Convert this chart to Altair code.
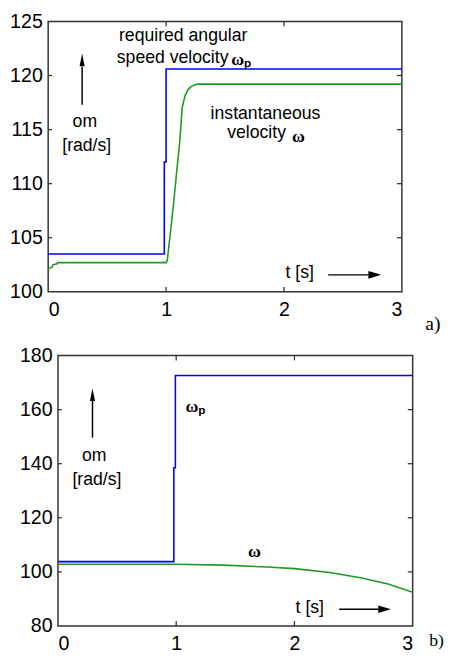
import altair as alt
import pandas as pd

# ---------------- data ----------------
# panel a)
a_req_t = [0.0, 0.985, 0.985, 1.0, 1.0, 3.0]
a_req_om = [103.5, 103.5, 112.0, 112.0, 120.6, 120.6]
a_act_t = [0.0, 0.035, 0.04, 0.075, 0.08, 1.0, 1.01, 1.035, 1.062, 1.089,
           1.117, 1.136, 1.16, 1.186, 1.215, 1.245, 1.27, 3.0]
a_act_om = [102.1, 102.3, 102.5, 102.6, 102.7, 102.7, 102.9, 105.3, 108.0, 111.0,
            114.0, 117.0, 118.1, 118.7, 119.0, 119.15, 119.2, 119.2]
# panel b)
b_req_t = [0.0, 0.98, 0.98, 0.993, 0.993, 3.0]
b_req_om = [103.8, 103.8, 138.5, 138.5, 172.6, 172.6]
b_act_t = [0.0, 1.0, 1.4, 1.77, 2.0, 2.3, 2.57, 2.8, 3.0]
b_act_om = [102.8, 102.8, 102.5, 101.8, 101.2, 99.8, 97.7, 95.4, 92.5]

x_ticks = [0, 1, 2, 3]
a_y_ticks = [100, 105, 110, 115, 120, 125]
b_y_ticks = [80, 100, 120, 140, 160, 180]

SANS = "Liberation Sans"
SERIF = "Liberation Serif"
BLUE = "#0000ff"
GREEN = "#229922"
FRAME = "#333333"

UP_HEAD = "M0,-1L0.4,1L-0.4,1Z"
RIGHT_HEAD = "M1,0L-1,-0.6L-1,0.6Z"


def df(**cols):
    return pd.DataFrame(cols)


def panel(req_t, req_om, act_t, act_om, y_dom, y_ticks, texts, arrows, heads,
          w, h, ypad):
    X = alt.X("t:Q", scale=alt.Scale(domain=[0, 3], nice=False, zero=False),
              axis=alt.Axis(values=x_ticks, title=None, labelPadding=8))
    Y = alt.Y("om:Q", scale=alt.Scale(domain=y_dom, nice=False, zero=False),
              axis=alt.Axis(values=y_ticks, title=None, labelPadding=ypad))
    layers = []
    # inward ticks (MATLAB style box)
    inner_y = y_ticks[1:-1]
    inner_x = x_ticks[1:-1]
    layers.append(alt.Chart(df(t=[0] * len(inner_y), om=inner_y)).mark_tick(
        orient="horizontal", size=4, thickness=1.3, xOffset=2, color=FRAME, opacity=1
    ).encode(x=X, y=Y))
    layers.append(alt.Chart(df(t=[3] * len(inner_y), om=inner_y)).mark_tick(
        orient="horizontal", size=5, thickness=1.3, xOffset=-2.5, color=FRAME, opacity=1
    ).encode(x=X, y=Y))
    layers.append(alt.Chart(df(t=inner_x, om=[y_dom[0]] * len(inner_x))).mark_tick(
        orient="vertical", size=5, thickness=1.3, yOffset=-2.5, color=FRAME, opacity=1
    ).encode(x=X, y=Y))
    layers.append(alt.Chart(df(t=inner_x, om=[y_dom[1]] * len(inner_x))).mark_tick(
        orient="vertical", size=5, thickness=1.3, yOffset=2.5, color=FRAME, opacity=1
    ).encode(x=X, y=Y))
    # series
    layers.append(alt.Chart(df(t=req_t, om=req_om, i=list(range(len(req_t))))).mark_line(
        color=BLUE, strokeWidth=1.6, interpolate="linear"
    ).encode(x=X, y=Y, order="i:Q"))
    layers.append(alt.Chart(df(t=act_t, om=act_om, i=list(range(len(act_t))))).mark_line(
        color=GREEN, strokeWidth=1.6, interpolate="linear"
    ).encode(x=X, y=Y, order="i:Q"))
    # arrows
    layers.append(alt.Chart(df(**arrows)).mark_rule(color="black", strokeWidth=1.5).encode(
        x=X, y=Y, x2="t2:Q", y2="om2:Q"))
    for hd in heads:
        layers.append(alt.Chart(df(t=[hd["t"]], om=[hd["om"]])).mark_point(
            shape=hd["shape"], size=169, filled=True, color="black", opacity=1, strokeWidth=0
        ).encode(x=X, y=Y))
    # texts
    for tx in texts:
        layers.append(alt.Chart(df(t=[tx["t"]], om=[tx["om"]], label=[tx["label"]])).mark_text(
            font=tx.get("font", SANS), fontSize=tx.get("size", 18),
            fontWeight=tx.get("weight", "normal"), align=tx.get("align", "center"),
            baseline="alphabetic", color="black"
        ).encode(x=X, y=Y, text="label:N"))
    return alt.layer(*layers).properties(width=w, height=h)


def spacer(w):
    return alt.Chart(df(z=[0])).mark_text(text="", fontSize=1).encode(
        x=alt.value(0), y=alt.value(0)
    ).properties(width=w, height=1, view=alt.ViewBackground(stroke="transparent"))


a_texts = [
    dict(label="required angular", t=1.145, om=123.22),
    dict(label="speed velocity", t=0.582, om=121.18, align="left"),
    dict(label="ω", t=1.553, om=120.95, align="left", font=SERIF, weight="bold", size=18),
    dict(label="p", t=1.66, om=120.8, align="left", weight="bold", size=12),
    dict(label="om", t=0.311, om=115.24),
    dict(label="[rad/s]", t=0.327, om=113.03),
    dict(label="instantaneous", t=1.843, om=115.97),
    dict(label="velocity", t=2.017, om=114.2, align="right"),
    dict(label="ω", t=2.067, om=113.89, align="left", font=SERIF, weight="bold", size=18),
    dict(label="t [s]", t=2.134, om=101.3),
    dict(label="a)", t=3.198, om=96.5, align="left", font=SERIF, size=20),
]
a_arrows = dict(t=[0.288, 2.375], om=[117.3, 101.57], t2=[0.288, 2.72], om2=[120.8, 101.57])
a_heads = [dict(t=0.288, om=121.45, shape=UP_HEAD), dict(t=2.77, om=101.57, shape=RIGHT_HEAD)]

b_texts = [
    dict(label="ω", t=1.079, om=158.99, align="left", font=SERIF, weight="bold", size=18),
    dict(label="p", t=1.186, om=158.3, align="left", weight="bold", size=12),
    dict(label="om", t=0.306, om=140.98),
    dict(label="[rad/s]", t=0.329, om=132.0),
    dict(label="ω", t=1.608, om=105.36, align="left", font=SERIF, weight="bold", size=18),
    dict(label="t [s]", t=2.13, om=84.9),
    dict(label="b)", t=3.14, om=72.5, align="left", font=SERIF, size=18),
]
b_arrows = dict(t=[0.292, 2.378], om=[149.6, 86.2], t2=[0.292, 2.71], om2=[163.5, 86.2])
b_heads = [dict(t=0.292, om=165.5, shape=UP_HEAD), dict(t=2.763, om=86.2, shape=RIGHT_HEAD)]

top = panel(a_req_t, a_req_om, a_act_t, a_act_om, [100, 125], a_y_ticks,
            a_texts, a_arrows, a_heads, 361, 276, 6)
bottom = panel(b_req_t, b_req_om, b_act_t, b_act_om, [80, 180], b_y_ticks,
               b_texts, b_arrows, b_heads, 362, 276, 6)

chart = alt.vconcat(
    alt.hconcat(spacer(1), top, spacing=0, bounds="flush"),
    alt.hconcat(spacer(11), bottom, spacing=0, bounds="flush"),
    spacing=341,
    bounds="flush",
).properties(
    padding={"left": 0, "top": -4, "right": 0, "bottom": -3}
).configure_view(
    stroke=FRAME, strokeWidth=1.5
).configure_axis(
    labelFont=SANS, labelFontSize=20, labelColor="black", ticks=False, tickSize=0,
    domain=False, grid=False
)

chart.save("out.html", embed_options={"renderer": "svg", "actions": False})
